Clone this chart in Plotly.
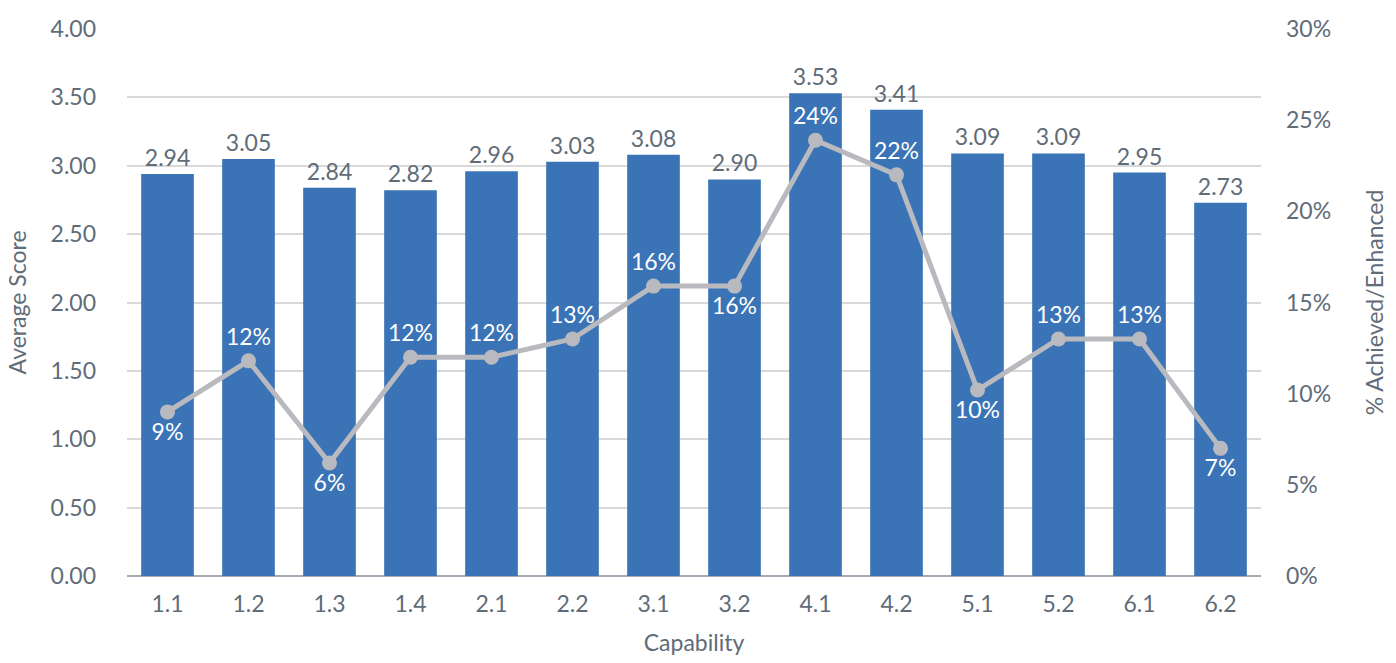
import plotly.graph_objects as go

# Capability scores and share achieved/enhanced
capabilities = ["1.1", "1.2", "1.3", "1.4", "2.1", "2.2", "3.1", "3.2",
                "4.1", "4.2", "5.1", "5.2", "6.1", "6.2"]
avg_score = [2.94, 3.05, 2.84, 2.82, 2.96, 3.03, 3.08, 2.90,
             3.53, 3.41, 3.09, 3.09, 2.95, 2.73]
pct_achieved = [0.090, 0.118, 0.062, 0.120, 0.120, 0.130, 0.159, 0.159,
                0.239, 0.220, 0.102, 0.130, 0.130, 0.070]
pct_label_pos = ["bottom center", "top center", "bottom center", "top center",
                 "top center", "top center", "top center", "bottom center",
                 "top center", "top center", "bottom center", "top center",
                 "top center", "bottom center"]

FONT = "Lato, 'Open Sans', sans-serif"
TEXT = "#606C78"
BAR = "#3A73B6"
LINE = "#B9BABF"
FS = 23

fig = go.Figure()

fig.add_trace(go.Bar(
    x=capabilities, y=avg_score,
    marker=dict(color=BAR, line=dict(width=0)),
    text=[f"{v:.2f}" for v in avg_score],
    textposition="outside",
    textfont=dict(color=TEXT, size=FS, family=FONT),
    cliponaxis=False,
    name="Average Score",
))

fig.add_trace(go.Scatter(
    x=capabilities, y=pct_achieved, yaxis="y2",
    mode="lines+markers+text",
    line=dict(color=LINE, width=5),
    marker=dict(color=LINE, size=15),
    texttemplate="%{y:.0%}",
    textposition=pct_label_pos,
    textfont=dict(color="white", size=FS, family=FONT),
    cliponaxis=False,
    name="% Achieved/Enhanced",
))

fig.update_layout(
    width=1396, height=663,
    margin=dict(l=127, r=135, t=29, b=85),
    paper_bgcolor="white", plot_bgcolor="white",
    showlegend=False,
    bargap=0.35,
    font=dict(family=FONT, color=TEXT, size=FS),
    xaxis=dict(
        title=dict(text="Capability", font=dict(size=FS, color=TEXT), standoff=18),
        range=[-0.5, len(capabilities) - 0.5],
        tickfont=dict(size=FS, color=TEXT),
        showgrid=False, showline=False, ticks="",
        ticklabelstandoff=12,
    ),
    yaxis=dict(
        title=dict(text="Average Score", font=dict(size=FS, color=TEXT), standoff=17),
        range=[0, 4], dtick=0.5, tickformat=".2f",
        tickfont=dict(size=FS, color=TEXT),
        gridcolor="#D9D9D9", gridwidth=1.5,
        zeroline=True, zerolinecolor="#A3ABB4", zerolinewidth=1.5,
        showline=False, ticks="",
        ticklabelstandoff=30,
    ),
    yaxis2=dict(
        title=dict(text="% Achieved/Enhanced", font=dict(size=FS, color=TEXT), standoff=36),
        overlaying="y", side="right",
        range=[0, 0.30], dtick=0.05, tickformat=".0%",
        tickfont=dict(size=FS, color=TEXT),
        showgrid=False, zeroline=False, showline=False, ticks="",
        ticklabelstandoff=24,
    ),
)

fig.write_html("out.html")
